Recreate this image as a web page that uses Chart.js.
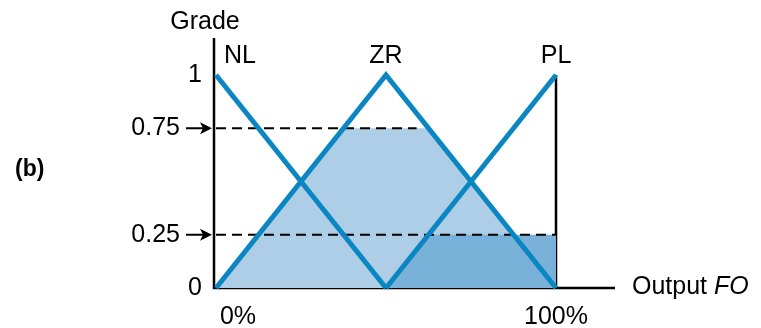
<!DOCTYPE html>
<html>
<head>
<meta charset="utf-8">
<script src="https://cdn.jsdelivr.net/npm/chart.js@4"></script>
<style>
  body { margin: 0; background: #fff; }
  canvas { display: block; }
</style>
</head>
<body>
<canvas id="chart" width="761" height="328"></canvas>
<script>
// membership functions (x in % of output, y = grade)
const nlX = [0, 50];
const nlY = [1, 0];
const zrX = [0, 50, 100];
const zrY = [0, 1, 0];
const plX = [50, 100];
const plY = [0, 1];

// clipped areas
const zrCutX = [0, 37.5, 62.5, 100];
const zrCutY = [0, 0.75, 0.75, 0];
const plCutX = [50, 62.5, 100, 100];
const plCutY = [0, 0.25, 0.25, 0];

// dashed grade levels
const level75X = [0, 59];
const level75Y = [0.75, 0.75];
const level25X = [0, 100];
const level25Y = [0.25, 0.25];

const yTicks = [0, 0.25, 0.75, 1];
const yTickLabels = ['0', '0.25', '0.75', '1'];
const arrowTicks = [0.25, 0.75];
const xTicks = [0, 100];
const xTickLabels = ['0%', '100%'];
const setNames = ['NL', 'ZR', 'PL'];
const setPeaks = [0, 50, 100];

const pts = (xs, ys) => xs.map((x, i) => ({ x: x, y: ys[i] }));

const blue = '#0a86c2';
const font = '"Liberation Sans", Arial, sans-serif';

const drawStuff = {
  id: 'drawStuff',
  beforeDatasetsDraw(c) {
    const ctx = c.ctx, x = c.scales.x, y = c.scales.y;
    const x0 = x.getPixelForValue(0), x1 = x.getPixelForValue(100);
    const y0 = y.getPixelForValue(0), y1 = y.getPixelForValue(1);
    ctx.save();
    ctx.strokeStyle = '#000';
    ctx.lineWidth = 2.5;
    ctx.beginPath();
    // y axis
    ctx.moveTo(x0 - 2, 38);
    ctx.lineTo(x0 - 2, y0);
    // x axis
    ctx.lineTo(615, y0);
    // right border at 100%
    ctx.moveTo(x1, y1);
    ctx.lineTo(x1, y0);
    ctx.stroke();
    ctx.restore();
  },
  afterDatasetsDraw(c) {
    const ctx = c.ctx, x = c.scales.x, y = c.scales.y;
    ctx.save();
    ctx.fillStyle = '#000';
    ctx.font = '25px ' + font;
    ctx.textBaseline = 'middle';

    ctx.textAlign = 'center';
    ctx.fillText('Grade', 205, 22);
    setNames.forEach((n, i) => {
      let px = x.getPixelForValue(setPeaks[i]);
      if (i === 0) px += 24;
      ctx.fillText(n, px, 56);
    });

    // y tick labels and arrows
    ctx.textAlign = 'right';
    yTicks.forEach((t, i) => {
      const py = y.getPixelForValue(t);
      const hasArrow = arrowTicks.includes(t);
      ctx.fillText(yTickLabels[i], hasArrow ? 180 : 202, py);
      if (hasArrow) {
        ctx.strokeStyle = '#000';
        ctx.lineWidth = 2;
        ctx.beginPath();
        ctx.moveTo(186, py);
        ctx.lineTo(204, py);
        ctx.stroke();
        ctx.beginPath();
        ctx.moveTo(212, py);
        ctx.lineTo(200, py - 6);
        ctx.lineTo(203, py);
        ctx.lineTo(200, py + 6);
        ctx.closePath();
        ctx.fill();
      }
    });

    // x tick labels
    ctx.textAlign = 'center';
    xTicks.forEach((t, i) => {
      let px = x.getPixelForValue(t);
      if (i === 0) px += 22;
      ctx.fillText(xTickLabels[i], px, 317);
    });

    // axis title
    ctx.textAlign = 'left';
    ctx.fillText('Output ', 632, 287);
    const w = ctx.measureText('Output ').width;
    ctx.font = 'italic 25px ' + font;
    ctx.fillText('FO', 632 + w, 287);

    ctx.font = 'bold 23px ' + font;
    ctx.fillText('(b)', 15, 170);
    ctx.restore();
  }
};

new Chart(document.getElementById('chart'), {
  type: 'scatter',
  data: {
    datasets: [
      { data: pts(zrCutX, zrCutY), showLine: true, fill: 'origin', backgroundColor: '#aecde7', borderWidth: 0, pointRadius: 0, order: 6 },
      { data: pts(plCutX, plCutY), showLine: true, fill: 'origin', backgroundColor: '#79b1d9', borderWidth: 0, pointRadius: 0, order: 5 },
      { data: pts(level75X, level75Y), showLine: true, borderColor: '#000', borderWidth: 2, borderDash: [10, 6], pointRadius: 0, order: 4 },
      { data: pts(level25X, level25Y), showLine: true, borderColor: '#000', borderWidth: 2, borderDash: [10, 6], pointRadius: 0, order: 4 },
      { data: pts(nlX, nlY), showLine: true, borderColor: blue, borderWidth: 5, pointRadius: 0, order: 1, clip: 10 },
      { data: pts(zrX, zrY), showLine: true, borderColor: blue, borderWidth: 5, pointRadius: 0, order: 1, clip: 10 },
      { data: pts(plX, plY), showLine: true, borderColor: blue, borderWidth: 5, pointRadius: 0, order: 1, clip: 10 }
    ]
  },
  options: {
    responsive: false,
    animation: false,
    devicePixelRatio: 1,
    layout: { padding: { left: 216, right: 205, top: 75, bottom: 40 } },
    plugins: { legend: { display: false }, tooltip: { enabled: false } },
    scales: {
      x: { type: 'linear', min: 0, max: 100, display: false },
      y: { type: 'linear', min: 0, max: 1, display: false }
    }
  },
  plugins: [drawStuff]
});
</script>
</body>
</html>
